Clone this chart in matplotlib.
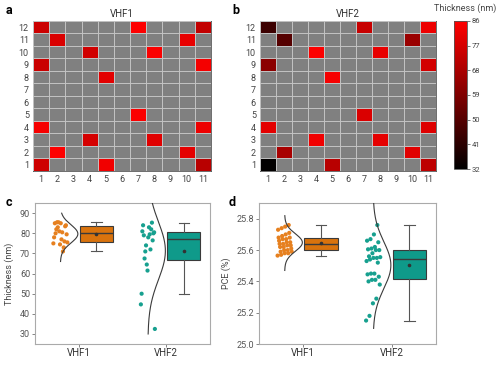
import numpy as np
import matplotlib
matplotlib.use("Agg")
import matplotlib.pyplot as plt
from matplotlib.colors import LinearSegmentedColormap

plt.rcParams['font.family'] = ['Roboto', 'DejaVu Sans']

# ---------------------------------------------------------------
# data
# ---------------------------------------------------------------
# measured cells on the 11 x 12 substrate grid (row, column)
cell_rows = [12, 12, 12, 11, 11, 10, 10, 9, 9, 8, 5, 4, 4, 3, 3, 2, 2, 1, 1, 1]
cell_cols = [1, 7, 11, 2, 10, 4, 8, 1, 11, 5, 7, 1, 11, 4, 8, 2, 10, 1, 5, 11]

thk_vhf1 = [75, 85.5, 73, 78, 81, 76, 85, 74.5, 83.5, 80,
            85, 84, 82, 77, 79.5, 85.5, 80.5, 75.5, 83, 71]
thk_vhf2 = [44.7, 74, 82, 50, 64.5, 85.3, 81, 61.5, 76.5, 84,
            78, 80, 79, 83, 80.5, 67.5, 79.5, 32.5, 71, 72]

pce_vhf1 = [25.565, 25.57, 25.58, 25.58, 25.59, 25.59, 25.60, 25.60, 25.61, 25.62,
            25.62, 25.63, 25.63, 25.64, 25.64, 25.65, 25.65, 25.66, 25.67, 25.67,
            25.68, 25.68, 25.69, 25.70, 25.71, 25.73, 25.74, 25.75, 25.76]
pce_vhf2 = [25.15, 25.18, 25.26, 25.29, 25.38, 25.40, 25.41, 25.41, 25.43, 25.445,
            25.45, 25.45, 25.52, 25.53, 25.54, 25.55, 25.55, 25.555, 25.56, 25.58,
            25.60, 25.60, 25.605, 25.61, 25.62, 25.65, 25.66, 25.67, 25.70, 25.76]

groups = ["VHF1", "VHF2"]
cbar_ticks = [32, 41, 50, 59, 68, 77, 86]

# y-span of the fitted normal curves
thk_curve_span = [(66, 90), (30, 96)]
pce_curve_span = [(25.47, 25.82), (25.10, 25.92)]

orange = "#d9730d"
orange_pt = "#e6801f"
teal = "#0f9a8a"
teal_pt = "#17a08f"

# ---------------------------------------------------------------
# figure
# ---------------------------------------------------------------
fig = plt.figure(figsize=(5.0, 3.66), dpi=100)

cmap = LinearSegmentedColormap.from_list("blackred", ["#000000", "#ff0000"])


def heat(ax, vals, title):
    grid = np.full((12, 11), np.nan)
    for r, c, v in zip(cell_rows, cell_cols, vals):
        grid[r - 1, c - 1] = v
    ax.set_facecolor("#808080")
    xe = np.arange(0.5, 12, 1)
    ye = np.arange(0.5, 13, 1)
    m = ax.pcolormesh(xe, ye, np.ma.masked_invalid(grid), cmap=cmap,
                      vmin=32, vmax=86, zorder=1)
    ax.set_xlim(0.5, 11.5)
    ax.set_ylim(0.5, 12.5)
    ax.set_xticks(range(1, 12))
    ax.set_yticks(range(1, 13))
    ax.set_xticks(xe, minor=True)
    ax.set_yticks(ye, minor=True)
    ax.set_axisbelow(False)
    ax.grid(which="minor", color="#c4c4c4", lw=0.7, zorder=2)
    ax.tick_params(which="both", length=0, labelsize=6.5, colors="#444444", pad=3)
    for s in ax.spines.values():
        s.set_color("#555555")
        s.set_linewidth(0.6)
    ax.set_title(title, fontsize=7, color="#333333", pad=3)
    return m


axa = fig.add_axes([0.066, 0.533, 0.356, 0.41])
heat(axa, thk_vhf1, "VHF1")
axb = fig.add_axes([0.52, 0.533, 0.352, 0.41])
im = heat(axb, thk_vhf2, "VHF2")

cax = fig.add_axes([0.908, 0.538, 0.026, 0.405])
cb = fig.colorbar(im, cax=cax, ticks=cbar_ticks)
cb.outline.set_edgecolor("#555555")
cb.outline.set_linewidth(0.6)
cax.tick_params(labelsize=5.5, length=2, width=0.5, colors="#444444", pad=1.5)
fig.text(0.93, 0.977, "Thickness (nm)", fontsize=6.5, color="#444444",
         ha="center", va="center")


def jitter(n, width):
    idx = (np.arange(n) * 7) % n
    return (idx / max(n - 1, 1) - 0.5) * 2 * width


def rain(ax, data, spans, ylim, yticks, fmt, ylabel):
    colors = [orange, teal]
    pcolors = [orange_pt, teal_pt]
    for i, vals in enumerate(data):
        pos = i + 1
        vals = np.asarray(vals)
        base = pos - 0.21
        # points
        ax.scatter(base + jitter(len(vals), 0.08), vals, s=9, color=pcolors[i],
                   edgecolors="none", zorder=3)
        # normal curve
        mu, sd = vals.mean(), vals.std(ddof=1)
        yy = np.linspace(spans[i][0], spans[i][1], 200)
        ax.plot(base + 0.2 * np.exp(-0.5 * ((yy - mu) / sd) ** 2), yy,
                color="#3a3a3a", lw=0.8, zorder=4)
        # box
        ax.boxplot([vals], positions=[pos + 0.2], widths=0.38,
                   patch_artist=True, showfliers=False, showmeans=True,
                   capwidths=0.12,
                   boxprops=dict(facecolor=colors[i], edgecolor="#3a3a3a", lw=0.8),
                   medianprops=dict(color="#3a3a3a", lw=1.0),
                   whiskerprops=dict(color="#555555", lw=0.8),
                   capprops=dict(color="#555555", lw=0.8),
                   meanprops=dict(marker="o", markersize=1.6,
                                  markerfacecolor="#333333",
                                  markeredgecolor="#333333"))
    ax.set_xlim(0.5, 2.5)
    ax.set_ylim(*ylim)
    ax.set_xticks([1, 2])
    ax.set_xticklabels(groups)
    ax.set_yticks(yticks)
    ax.set_yticklabels([fmt % t for t in yticks])
    ax.set_ylabel(ylabel, fontsize=6.5, color="#444444", labelpad=4)
    ax.tick_params(labelsize=6.5, length=2, width=0.5, colors="#555555", pad=1.5)
    ax.tick_params(axis="x", labelsize=7, labelcolor="#333333", pad=1)
    for s in ax.spines.values():
        s.set_color("#aaaaaa")
        s.set_linewidth(0.8)


axc = fig.add_axes([0.07, 0.06, 0.35, 0.385])
rain(axc, [thk_vhf1, thk_vhf2], thk_curve_span, (25, 95),
     [30, 40, 50, 60, 70, 80, 90], "%d", "Thickness (nm)")

axd = fig.add_axes([0.518, 0.06, 0.354, 0.385])
rain(axd, [pce_vhf1, pce_vhf2], pce_curve_span, (25.0, 25.9),
     [25.0, 25.2, 25.4, 25.6, 25.8], "%.1f", "PCE (%)")

for lbl, x, y in [("a", 0.012, 0.972), ("b", 0.465, 0.972),
                  ("c", 0.012, 0.447), ("d", 0.458, 0.447)]:
    fig.text(x, y, lbl, fontsize=9, fontweight="bold", ha="left", va="center")

fig.savefig("out.png", dpi=100)
